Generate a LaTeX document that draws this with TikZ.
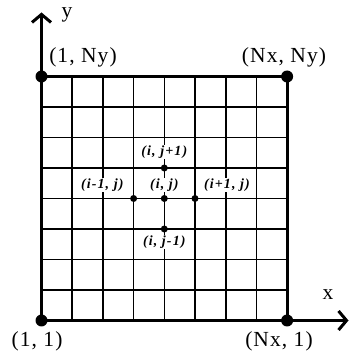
\documentclass[tikz,border=0pt]{standalone}
\usepackage{fontspec}
\setmainfont{Liberation Serif}
\usetikzlibrary{arrows.meta}
\begin{document}
\begin{tikzpicture}[x=1pt,y=1pt,
  biglab/.style={inner sep=0pt,font=\fontsize{21.5}{23}\selectfont\addfontfeature{LetterSpace=5}},
  smalllab/.style={inner sep=0.5pt,fill=white,font=\fontsize{14}{15}\selectfont\bfseries\itshape\addfontfeature{LetterSpace=8}},
  bigdot/.style={circle,fill=black,inner sep=0pt,minimum size=12pt},
  smalldot/.style={circle,fill=black,inner sep=0pt,minimum size=7pt},
  axisline/.style={line width=3pt,-{Straight Barb[length=8pt,width=19pt]}}]
\useasboundingbox (0,0) rectangle (352,355);
\begin{scope}[shift={(41.5,34.5)}, x=30.7pt, y=30.5pt]
  \draw[line width=1.6pt] (0,0) grid[step=1] (8,8);
  \draw[line width=3pt] (0,0) rectangle (8,8);
  \coordinate (xend) at (10.0,0);
  \coordinate (yend) at (0,10.1);
  \node[bigdot] (c11) at (0,0) {};
  \node[bigdot] (c1N) at (0,8) {};
  \node[bigdot] (cNN) at (8,8) {};
  \node[bigdot] (cN1) at (8,0) {};
  \draw[axisline] (c11.center) -- (xend);
  \draw[axisline] (c11.center) -- (yend);
  \node[smalllab] (lup) at (4,5.53) {(i, j+1)};
  \node[smalllab] (lc) at (4,4.45) {(i, j)};
  \node[smalllab] (lleft) at (1.98,4.45) {(i-1, j)};
  \node[smalllab] (lright) at (6.04,4.45) {(i+1, j)};
  \node[smalllab] (ldown) at (4,2.58) {(i, j-1)};
  \node[smalldot] (pc) at (4,4) {};
  \node[smalldot] (pl) at (3,4) {};
  \node[smalldot] (pr) at (5,4) {};
  \node[smalldot] (pu) at (4,5) {};
  \node[smalldot] (pd) at (4,3) {};
\end{scope}
\node[biglab] (ly) at (67,340) {y};
\node[biglab] (lx) at (328,60) {x};
\node[biglab] (l1N) at (83,298) {(1, Ny)};
\node[biglab] (lNN) at (284,298) {(Nx, Ny)};
\node[biglab] (l11) at (37,14) {(1, 1)};
\node[biglab] (lN1) at (279,14) {(Nx, 1)};
\end{tikzpicture}
\end{document}
